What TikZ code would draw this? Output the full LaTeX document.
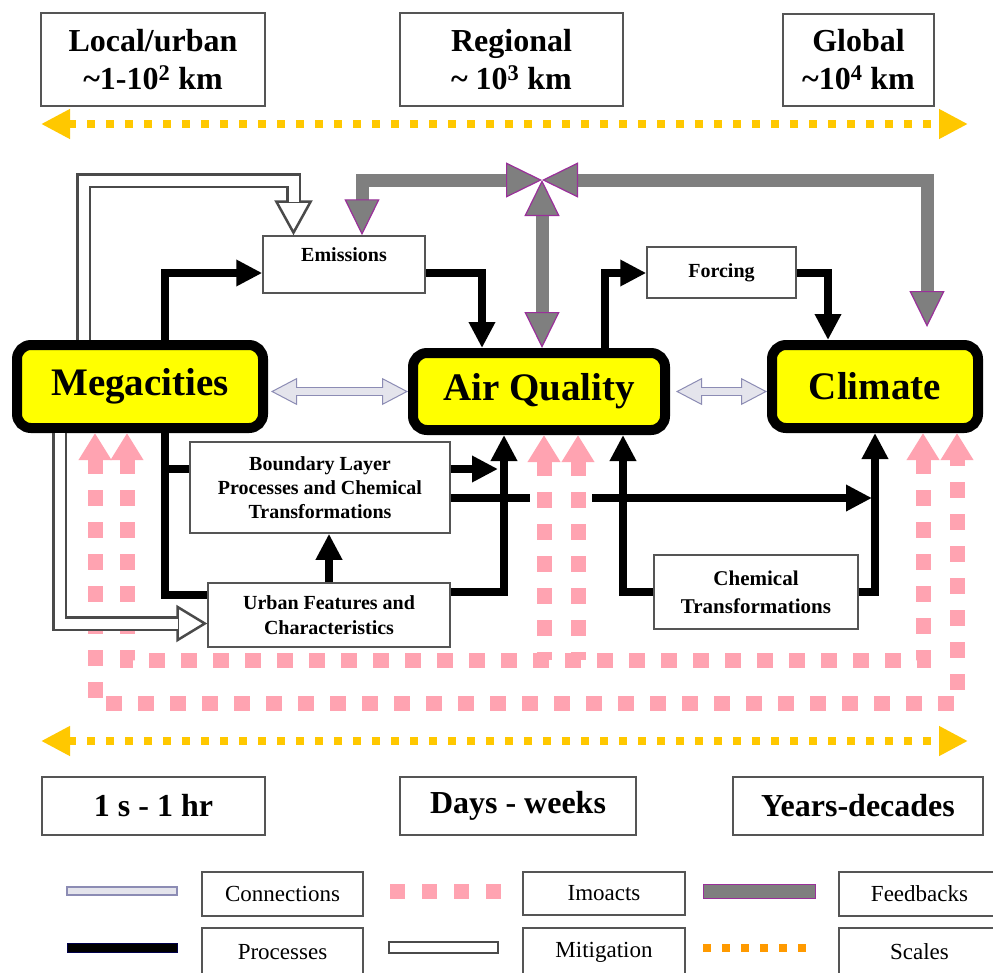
\documentclass[tikz,border=0pt]{standalone}
\usepackage{fontspec}
\setmainfont{Liberation Serif}
\usetikzlibrary{arrows.meta,calc}
\definecolor{scalegold}{HTML}{FFC800}
\definecolor{impink}{HTML}{FFA3B1}
\definecolor{fbgray}{HTML}{7F7F7F}
\definecolor{fbpurple}{HTML}{9A2F9A}
\definecolor{connfill}{HTML}{E4E4EC}
\definecolor{connout}{HTML}{8C8CB4}
\definecolor{boxgray}{HTML}{555555}
\definecolor{mitgray}{HTML}{4A4A4A}
\definecolor{scaleorange}{HTML}{FF9A00}
\definecolor{megayellow}{HTML}{FFFF00}
\tikzset{
  bigbox/.style={draw=black, line width=10pt, fill=megayellow, rounded corners=14pt,
    font=\fontsize{39}{44}\selectfont\bfseries, inner sep=0pt, outer sep=5pt},
  scalebox/.style={draw=boxgray, line width=2pt, fill=white, inner sep=0pt, align=center,
    font=\fontsize{32}{38}\selectfont\bfseries},
  procbox/.style={draw=boxgray, line width=1.5pt, fill=white, inner sep=0pt, align=center,
    font=\fontsize{20}{24}\selectfont\bfseries},
  emisbox/.style={draw=boxgray, line width=1.5pt, fill=white, inner sep=0pt,
    font=\fontsize{20}{24}\selectfont\bfseries},
  legbox/.style={draw=boxgray, line width=2pt, fill=white, inner sep=0pt,
    font=\fontsize{23}{27}\selectfont},
  proc/.style={draw=black, line width=8pt, line join=miter},
  procarrow/.style={proc, arrows={-Triangle[width=25pt,length=26pt]}},
  impact/.style={draw=impink, line width=15pt, dash pattern=on 16pt off 16pt},
  imptip/.style={arrows={Triangle[width=31pt,length=27pt]-Triangle[width=31pt,length=27pt]}},
  impstart/.style={arrows={Triangle[width=31pt,length=27pt]-}},
  mit/.style={draw=mitgray, line width=15pt, line join=miter},
  mitin/.style={draw=white, line width=10pt, line join=miter},
  fb/.style={draw=fbgray, line width=13pt, line join=miter,
    arrows={Triangle[width=35pt,length=36pt,fill=fbgray,color=fbpurple,line width=1.2pt]-Triangle[width=35pt,length=36pt,fill=fbgray,color=fbpurple,line width=1.2pt]}},
  conn/.style={draw=connout, line width=9pt,
    arrows={Triangle[width=27pt,length=26pt,fill=connfill,line width=1pt]-Triangle[width=27pt,length=26pt,fill=connfill,line width=1pt]}},
  conninner/.style={draw=connfill, line width=6.5pt},
  scl/.style={draw=scalegold, line width=8pt, dash pattern=on 8pt off 11pt,
    arrows={Triangle[width=28pt,length=29pt]-Triangle[width=28pt,length=29pt]}}
}
\begin{document}
\begin{tikzpicture}[x=1pt,y=-1pt]
\useasboundingbox (0,0) rectangle (993,972);
\fill[white] (0,0) rectangle (993,972);

% scale boxes
\node[scalebox, minimum width=224pt, minimum height=93pt] (local) at (153,59.5) {Local/urban\\\textasciitilde1-10\textsuperscript{2} km};
\node[scalebox, minimum width=223pt, minimum height=93pt] (regional) at (511.5,59.5) {Regional\\\textasciitilde{} 10\textsuperscript{3} km};
\node[scalebox, minimum width=151pt, minimum height=92pt] (global) at (858.5,60) {Global\\\textasciitilde10\textsuperscript{4} km};
\node[scalebox, minimum width=223pt, minimum height=58pt] (t1) at (153.5,806) {1 s - 1 hr};
\node[scalebox, minimum width=236pt, minimum height=58pt] (t2) at (518,806) {Days - weeks};
\node[scalebox, minimum width=250pt, minimum height=58pt] (t3) at (858,806) {Years-decades};

% scale arrows
\coordinate (sl1) at (41,124); \coordinate (sr1) at (968,124);
\coordinate (sl2) at (41,741); \coordinate (sr2) at (968,741);
\draw[scl] (sl1) -- (sr1);
\draw[scl] (sl2) -- (sr2);

% main nodes
\node[bigbox, minimum width=246pt, minimum height=83pt] (mega) at (140,386.5) {Megacities};
\node[bigbox, minimum width=252pt, minimum height=77pt] (aq) at (539,391.5) {Air Quality};
\node[bigbox, minimum width=206pt, minimum height=83pt] (clim) at (875,386.5) {Climate};

% process boxes
\node[emisbox, minimum width=162pt, minimum height=57pt, text height=13pt, text depth=19pt] (emis) at (344,264.5) {Emissions};
\node[procbox, minimum width=149pt, minimum height=51pt] (forc) at (721.5,272.5) {Forcing};
\node[procbox, minimum width=260pt, minimum height=91pt] (bl) at (320,487.5) {Boundary Layer\\Processes and Chemical\\Transformations};
\node[procbox, minimum width=242pt, minimum height=64pt, font=\fontsize{20}{25}\selectfont\bfseries] (uf) at (329,615) {Urban Features and\\Characteristics};
\node[procbox, minimum width=204pt, minimum height=74pt, font=\fontsize{21}{28}\selectfont\bfseries] (ct) at (756,592) {Chemical\\Transformations};

% process connectors
\coordinate (r1) at (165,273);
\coordinate (r2) at (482,273);
\coordinate (r3) at (605,273);
\coordinate (r4) at (828,273);
\coordinate (r5) at (165,469);
\coordinate (r6) at (165,595);
\coordinate (r7) at (498,469);
\coordinate (r8) at (872,498);
\coordinate (r10) at (504,592);
\coordinate (r11) at (623,592);
\coordinate (r12) at (875,592);
\draw[procarrow] (mega.north -| r1) -- (r1) -- (emis.west |- r1);
\draw[procarrow] (emis.east |- r2) -- (r2) -- (aq.north -| r2);
\draw[procarrow] (aq.north -| r3) -- (r3) -- (forc.west |- r3);
\draw[procarrow] (forc.east |- r4) -- (r4) -- (clim.north -| r4);
\draw[proc] (mega.south -| r5) -- (r5) -- (bl.west |- r5);
\draw[proc] (mega.south -| r6) -- (r6) -- (uf.west |- r6);
\draw[procarrow] (bl.east |- r7) -- (r7);
\draw[procarrow] (bl.east |- r8) -- (r8);
\draw[procarrow] (uf.north) -- (uf.north |- bl.south);
\draw[procarrow] (uf.east |- r10) -- (r10) -- (aq.south -| r10);
\draw[procarrow] (ct.west |- r11) -- (r11) -- (aq.south -| r11);
\draw[procarrow] (ct.east |- r12) -- (r12) -- (clim.south -| r12);
\fill[white] (530,489) rectangle (592,507);

% impacts
\coordinate (k1) at (95,703); \coordinate (k2) at (957,703);
\coordinate (k3) at (127,660); \coordinate (k4) at (923,660);
\coordinate (k5) at (544,660); \coordinate (k6) at (578,660);
\draw[impact, imptip] (mega.south -| k1) -- (k1) -- (k2) -- (clim.south -| k2);
\draw[impact, imptip] (mega.south -| k3) -- (k3) -- (k4) -- (clim.south -| k4);
\draw[impact, impstart] (aq.south -| k5) -- (k5);
\draw[impact, impstart] (aq.south -| k6) -- (k6);

% mitigation
\coordinate (m1) at (83.5,180.5); \coordinate (m2) at (293.5,180.5);
\coordinate (m3) at (59.5,623.5);
\draw[mit, arrows={-Triangle[width=38pt,length=35pt,fill=white,line width=2.5pt]}] (mega.north -| m1) -- (m1) -- (m2) -- (emis.north -| m2);
\draw[mitin, shorten >=33pt] (mega.north -| m1) -- (m1) -- (m2) -- (emis.north -| m2);
\draw[mit, arrows={-Triangle[width=37pt,length=31pt,fill=white,line width=2.5pt]}] (mega.south -| m3) -- (m3) -- (uf.west |- m3);
\draw[mitin, shorten >=29pt] (mega.south -| m3) -- (m3) -- (uf.west |- m3);

% connections
\draw[conn, shorten <=3pt] (mega.east |- aq.west) -- (aq.west);
\draw[conninner, shorten <=27pt, shorten >=24pt] (mega.east |- aq.west) -- (aq.west);
\draw[conn, shorten <=6pt] (aq.east) -- (clim.west |- aq.east);
\draw[conninner, shorten <=30pt, shorten >=24pt] (aq.east) -- (clim.west |- aq.east);

% feedbacks
\coordinate (fbc) at (542,180);
\coordinate (f1) at (362,180);
\coordinate (f2) at (927,180);
\draw[fb] (fbc) -- (f1) -- (emis.north -| f1);
\draw[fb, shorten >=13pt] (fbc) -- (f2) -- (clim.north -| f2);
\draw[fb] (fbc) -- (aq.north -| fbc);

% legend
\node[legbox, minimum width=161pt, minimum height=44pt] (lconn) at (282.5,894) {Connections};
\node[legbox, minimum width=161pt, minimum height=48pt] (lproc) at (282.5,952) {Processes};
\node[legbox, minimum width=162pt, minimum height=43pt] (limp) at (604,893) {Imoacts};
\node[legbox, minimum width=162pt, minimum height=48pt] (lmit) at (604,952) {Mitigation};
\node[legbox, minimum width=161pt, minimum height=44pt] (lfb) at (919.5,894) {Feedbacks};
\node[legbox, minimum width=161pt, minimum height=48pt] (lsc) at (919.5,952) {Scales};
\draw[fill=connfill, draw=connout, line width=1.5pt] (67,887) rectangle (177,895);
\draw[impink, line width=15pt, dash pattern=on 15pt off 17pt] (390,891) -- (502,891);
\draw[fill=fbgray, draw=fbpurple, line width=1pt] (703,884) rectangle (815,898);
\draw[fill=black, draw=black!70!blue, line width=1pt] (67,943) rectangle (177,952);
\draw[fill=white, draw=mitgray, line width=2.5pt] (389,942) rectangle (498,953);
\draw[scaleorange, line width=8pt, dash pattern=on 8pt off 11pt] (703,947.5) -- (808,947.5);
\end{tikzpicture}
\end{document}
